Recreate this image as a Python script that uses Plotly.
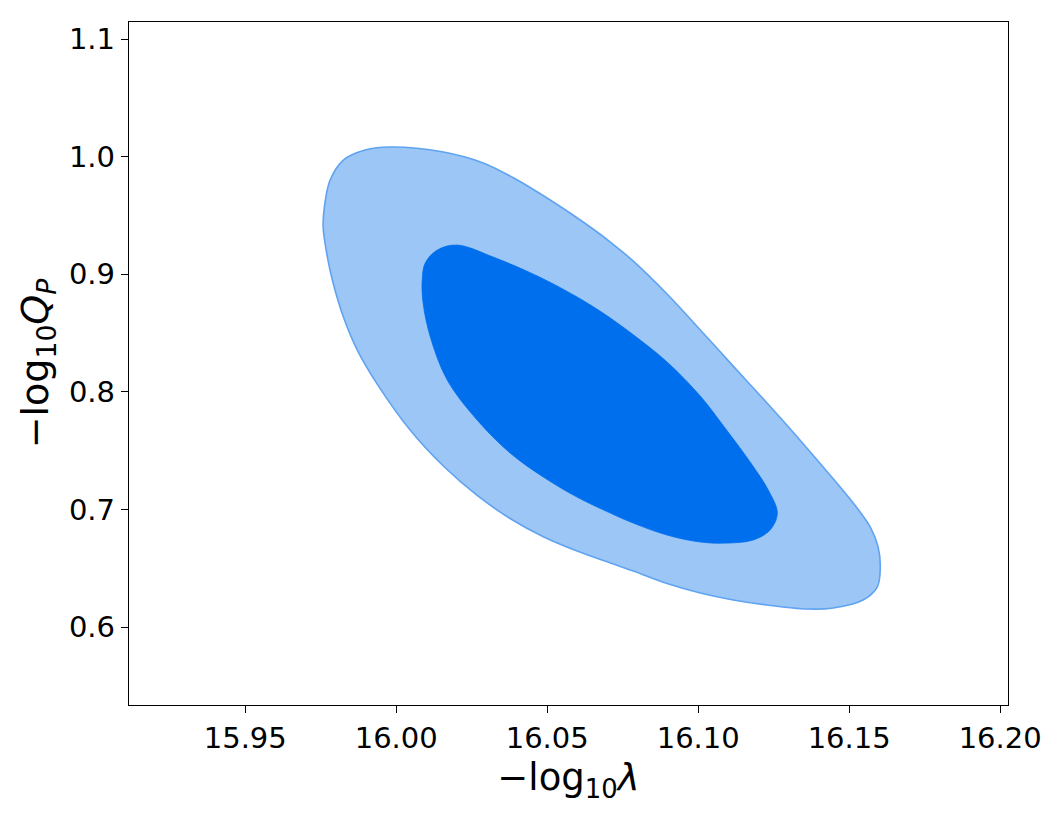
import plotly.graph_objects as go

# Outer (95%) contour outline, data coordinates
outer_x = [15.9980, 16.0156, 16.0288, 16.0401, 16.0510, 16.0619, 16.0709, 16.0785,
           16.0897, 16.1007, 16.1116, 16.1228, 16.1305, 16.1394, 16.1503, 16.1570,
           16.1596, 16.1603, 16.1593, 16.1546, 16.1447, 16.1361, 16.1228, 16.1116,
           16.1007, 16.0897, 16.0785, 16.0709, 16.0599, 16.0487, 16.0377, 16.0268,
           16.0156, 16.0046, 15.9937, 15.9871, 15.9825, 15.9791, 15.9772, 15.9758,
           15.9762, 15.9781, 15.9825, 15.9897]
outer_y = [1.0082, 1.0039, 0.9946, 0.9801, 0.9631, 0.9444, 0.9274, 0.9112,
           0.8832, 0.8526, 0.8219, 0.7905, 0.7684, 0.7420, 0.7088, 0.6850,
           0.6680, 0.6510, 0.6340, 0.6230, 0.6162, 0.6153, 0.6187, 0.6230,
           0.6289, 0.6370, 0.6476, 0.6544, 0.6646, 0.6768, 0.6923, 0.7119,
           0.7369, 0.7675, 0.8066, 0.8355, 0.8636, 0.8925, 0.9146, 0.9401,
           0.9571, 0.9801, 0.9971, 1.0056]

# Inner (68%) contour outline
inner_x = [16.0202, 16.0321, 16.0467, 16.0599, 16.0709, 16.0808, 16.0897, 16.1007,
           16.1089, 16.1172, 16.1232, 16.1262, 16.1238, 16.1182, 16.1096, 16.1007,
           16.0897, 16.0785, 16.0709, 16.0599, 16.0487, 16.0377, 16.0268, 16.0169,
           16.0113, 16.0089, 16.0086, 16.0096, 16.0136]
inner_y = [0.9248, 0.9146, 0.8985, 0.8806, 0.8628, 0.8440, 0.8253, 0.7964,
           0.7692, 0.7403, 0.7165, 0.6969, 0.6825, 0.6740, 0.6714, 0.6723,
           0.6782, 0.6884, 0.6969, 0.7105, 0.7276, 0.7480, 0.7760, 0.8100,
           0.8466, 0.8755, 0.8951, 0.9095, 0.9206]

x_ticks = [15.95, 16.00, 16.05, 16.10, 16.15, 16.20]
y_ticks = [0.6, 0.7, 0.8, 0.9, 1.0, 1.1]
x_range = [15.9115, 16.2026]
y_range = [0.5337, 1.1145]

fig = go.Figure()
fig.add_trace(go.Scatter(
    x=outer_x + [outer_x[0]], y=outer_y + [outer_y[0]], mode="lines",
    fill="toself", fillcolor="#9CC6F5",
    line=dict(color="#5FA3F1", width=1.6, shape="spline", smoothing=1.0),
    hoverinfo="skip", showlegend=False))
fig.add_trace(go.Scatter(
    x=inner_x + [inner_x[0]], y=inner_y + [inner_y[0]], mode="lines",
    fill="toself", fillcolor="#006FED",
    line=dict(color="#006FED", width=0.8, shape="spline", smoothing=1.0),
    hoverinfo="skip", showlegend=False))

axis_common = dict(showline=True, linecolor="black", linewidth=1.3, mirror=True,
                   showgrid=False, zeroline=False, ticks="outside", ticklen=7,
                   tickwidth=1.3, tickcolor="black",
                   tickfont=dict(family="DejaVu Sans", size=29, color="black"))

fig.update_xaxes(range=x_range, tickvals=x_ticks,
                 ticktext=[f"{v:.2f}" for v in x_ticks],
                 title=dict(text="−log<sub>10</sub><i>λ</i>",
                            font=dict(family="DejaVu Sans", size=37, color="black"),
                            standoff=10),
                 **axis_common)
fig.update_yaxes(range=y_range, tickvals=y_ticks,
                 ticktext=[f"{v:.1f}" for v in y_ticks],
                 title=dict(text="−log<sub>10</sub><i>Q<sub>P</sub></i>",
                            font=dict(family="DejaVu Sans", size=38, color="black"),
                            standoff=8),
                 **axis_common)

fig.update_layout(width=1063, height=823,
                  margin=dict(l=129, r=55, t=22, b=118, autoexpand=False),
                  plot_bgcolor="white", paper_bgcolor="white")

fig.write_html("out.html")
